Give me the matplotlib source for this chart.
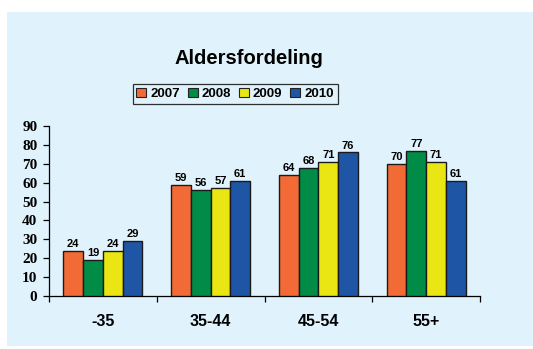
import numpy as np
import matplotlib.pyplot as plt
from matplotlib.patches import Patch, Rectangle

# age groups and yearly counts
groups = ['-35', '35-44', '45-54', '55+']
years = ['2007', '2008', '2009', '2010']
v2007 = [24, 59, 64, 70]
v2008 = [19, 56, 68, 77]
v2009 = [24, 57, 71, 71]
v2010 = [29, 61, 76, 61]
series = [v2007, v2008, v2009, v2010]
colors = ['#F26B36', '#008B46', '#EAE614', '#1E55A5']

bg = '#E0F2FB'
sans = 'Liberation Sans'
serif = 'Liberation Serif'

fig = plt.figure(figsize=(5.33, 3.49), dpi=100)
fig.patch.set_facecolor('white')
# light blue panel behind everything
fig.patches.append(Rectangle((7/533, 3/349), 1, 334/349, transform=fig.transFigure,
                             facecolor=bg, edgecolor='none', zorder=-10))

ax = fig.add_axes([49/533, 53/349, 431/533, 170/349])
ax.set_facecolor('none')

x = np.arange(len(groups))
w = 0.183
for i, (vals, c) in enumerate(zip(series, colors)):
    pos = x + (i - 1.5) * w
    ax.bar(pos, vals, w, color=c, edgecolor='#1a1a1a', linewidth=1.0, zorder=3)
    for p, v in zip(pos, vals):
        ax.text(p, v + 1.0, str(v), ha='center', va='bottom', fontsize=8,
                fontweight='bold', family=sans, zorder=4)

ax.set_xlim(-0.5, 3.5)
ax.set_ylim(0, 90)
ax.set_yticks(range(0, 91, 10))
ax.set_yticklabels([str(t) for t in range(0, 91, 10)], family=serif,
                   fontweight='bold', fontsize=11)
ax.set_xticks(x)
ax.set_xticklabels(groups, family=sans, fontweight='bold', fontsize=11.5)
ax.set_xticks(np.arange(-0.5, 4, 1), minor=True)
ax.tick_params(axis='x', which='major', length=0, pad=13)
ax.tick_params(axis='x', which='minor', length=4, width=0.9, direction='out')
ax.tick_params(axis='y', length=4.3, width=0.9, pad=4)
for s in ['top', 'right']:
    ax.spines[s].set_visible(False)
for s in ['left', 'bottom']:
    ax.spines[s].set_linewidth(0.9)

fig.text(0.467, 0.831, 'Aldersfordeling', ha='center', va='center',
         fontsize=14.5, fontweight='bold', family=sans)

handles = [Patch(facecolor=c, edgecolor='#222222', linewidth=0.8) for c in colors]
leg = fig.legend(handles, years, loc='center', bbox_to_anchor=(0.441, 0.731),
                 ncol=4, frameon=True, fancybox=False, handlelength=0.75,
                 handleheight=0.75, handletextpad=0.3, columnspacing=0.6,
                 borderpad=0.3, prop={'family': sans, 'weight': 'bold', 'size': 9.5})
leg.get_frame().set_edgecolor('black')
leg.get_frame().set_facecolor(bg)
leg.get_frame().set_linewidth(0.9)

fig.savefig('out.png', dpi=100)
